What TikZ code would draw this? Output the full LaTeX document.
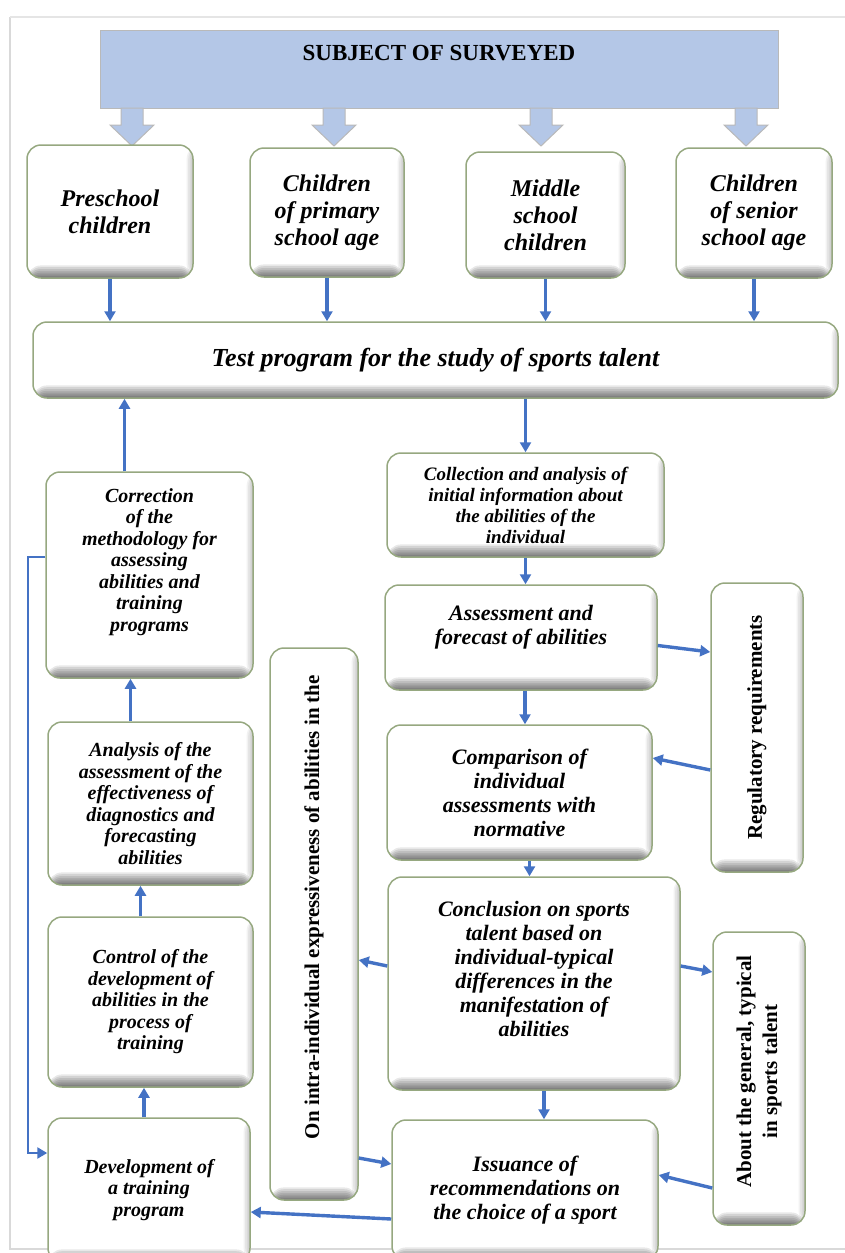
\documentclass[tikz,border=0pt]{standalone}
\usepackage{fontspec}
\setmainfont{Liberation Serif}
\usetikzlibrary{arrows.meta}
\definecolor{arrblue}{RGB}{68,114,196}
\definecolor{topblue}{RGB}{180,199,231}
\definecolor{boxline}{RGB}{150,168,128}
\begin{document}
\begin{tikzpicture}
      [x=1pt,y=-1pt
      ,box/.style={draw=boxline,line width=1.5pt,rounded corners=14pt,fill=white,align=center,inner sep=2pt
        ,font=\bfseries\itshape\fontsize{20}{21.5}\selectfont
        ,path picture={
          \foreach \k in {1,...,7}
            \fill[black,opacity=.09] (path picture bounding box.south west) rectangle ([yshift=1.8*\k pt]path picture bounding box.south east);
          \foreach \k in {1,...,4}
            \fill[black,opacity=.05] ([xshift=-1.6*\k pt]path picture bounding box.north east) rectangle (path picture bounding box.south east);}}
      ,big/.style={font=\bfseries\itshape\fontsize{22}{24}\selectfont}
      ,kid/.style={font=\bfseries\itshape\fontsize{24}{27}\selectfont}
      ,vtxt/.style={rotate=90,align=center,font=\bfseries\fontsize{21}{26}\selectfont}
      ,arr/.style={draw=arrblue,line width=3.4pt,-{Triangle[length=10pt,width=11pt]}}
      ,blockarr/.style={fill=topblue,draw=gray!55,line width=1pt}
      ]
        \useasboundingbox (0,0) rectangle (845,1253);
        \draw[gray!30,line width=1.5pt] (10,17) -- (10,1249) -- (845,1249);
        \draw[gray!20,line width=1.5pt] (10,17) -- (845,17);

        \node[draw=gray!55,fill=topblue,minimum width=678pt,minimum height=78pt,text depth=32pt,font=\bfseries\fontsize{23}{26}\selectfont] (top) at (439,69) {SUBJECT OF SURVEYED};
        \foreach \x in {132,334,541,746}
          \draw[blockarr] (\x-11,108) -- (\x-11,125) -- (\x-22,125) -- (\x,146) -- (\x+22,125) -- (\x+11,125) -- (\x+11,108) -- cycle;

        \node[box,kid,minimum width=166pt,minimum height=133pt] (pre) at (110,211.5) {Preschool\\children};
        \node[box,kid,minimum width=154pt,minimum height=129pt] (pri) at (327,212.5) {Children\\of primary\\school age};
        \node[box,kid,minimum width=159pt,minimum height=126pt] (mid) at (545.5,215) {Middle\\school\\children};
        \node[box,kid,minimum width=156pt,minimum height=130pt] (sen) at (754,213) {Children\\of senior\\school age};
        \node[box,minimum width=805pt,minimum height=76pt,font=\bfseries\itshape\fontsize{26}{30}\selectfont] (test) at (435.5,360) {Test program for the study of sports talent};

        \node[box,minimum width=277pt,minimum height=104pt,font=\bfseries\itshape\fontsize{19}{21}\selectfont] (coll) at (525.5,505) {Collection and analysis of\\initial information about\\the abilities of the\\individual};
        \node[box,big,minimum width=272pt,minimum height=105pt,text height=13pt,text depth=0pt] (ass) at (521,637.5) {Assessment and\\forecast of abilities};
        \node[box,big,minimum width=265pt,minimum height=135pt] (comp) at (519.5,792.5) {Comparison of\\individual\\assessments with\\normative};
        \node[box,big,minimum width=292pt,minimum height=213pt,text height=105pt,text depth=0pt] (conc) at (534,983.5) {Conclusion on sports\\talent based on\\individual-typical\\differences in the\\manifestation of\\abilities};
        \node[box,big,minimum width=266pt,minimum height=140pt] (iss) at (525,1190) {Issuance of\\recommendations on\\the choice of a sport};

        \node[box,minimum width=92pt,minimum height=289pt] (reg) at (757,727.5) {};
        \node[box,minimum width=92pt,minimum height=293pt] (about) at (759,1078.5) {};
        \node[box,minimum width=88pt,minimum height=552pt] (intra) at (314,924) {};
        \node[vtxt] (regtxt) at (reg.center) {Regulatory requirements};
        \node[vtxt] (abouttxt) at ([yshift=7pt]about.center) {About the general, typical\\in sports talent};
        \node[vtxt] (intratxt) at ([yshift=17pt]intra.center) {On intra-individual expressiveness of abilities in the};

        \node[box,minimum width=207pt,minimum height=206pt,text height=112pt,text depth=0pt] (corr) at (149.5,575) {Correction\\of the\\methodology for\\assessing\\abilities and\\training\\programs};
        \node[box,minimum width=205pt,minimum height=163pt] (ana) at (150.5,803.5) {Analysis of the\\assessment of the\\effectiveness of\\diagnostics and\\forecasting\\abilities};
        \node[box,minimum width=205pt,minimum height=170pt] (ctrl) at (150.5,1002) {Control of the\\development of\\abilities in the\\process of\\training};
        \node[box,minimum width=202pt,minimum height=144pt] (dev) at (149,1190) {Development of\\a training\\program};

        \foreach \n in {pre,pri,mid,sen}
          \draw[arr] (\n.south) -- (\n.south |- test.north);
        \draw[arr] (test.south -| coll.north) -- (coll.north);
        \draw[arr] ([xshift=-25pt]corr.north) -- ([xshift=-25pt]corr.north |- test.south);
        \draw[arr] (coll.south) -- (coll.south |- ass.north);
        \draw[arr] ([xshift=4pt]ass.south) -- ([xshift=4pt]ass.south |- comp.north);
        \draw[arr] ([yshift=-8pt]ass.east) -- ([yshift=75.5pt]reg.west);
        \draw[arr] ([yshift=-42.5pt]reg.west) -- ([yshift=34.5pt]comp.east);
        \draw[arr] ([xshift=10pt]comp.south) -- ([xshift=10pt]comp.south |- conc.north);
        \draw[arr] ([yshift=17.5pt]conc.west) -- ([yshift=-36pt]intra.east);
        \draw[arr] ([yshift=17.5pt]conc.east) -- ([yshift=106.5pt]about.west);
        \draw[arr] ([xshift=10pt]conc.south) -- ([xshift=10pt]conc.south |- iss.north);
        \draw[arr] ([yshift=-234pt]intra.east) -- ([yshift=26pt]iss.west);
        \draw[arr] ([yshift=-109.5pt]about.west) -- ([yshift=15pt]iss.east);
        \draw[arr] ([yshift=-29pt]iss.west) -- ([yshift=-22pt]dev.east);
        \draw[arr] ([xshift=-20pt]ana.north) -- ([xshift=-20pt]ana.north |- corr.south);
        \draw[arr] ([xshift=-10pt]ctrl.north) -- ([xshift=-10pt]ctrl.north |- ana.south);
        \draw[arr] ([xshift=-5pt]dev.north) -- ([xshift=-5pt]dev.north |- ctrl.south);
        \coordinate (fb) at (28,1153);
        \draw[arr,line width=2.4pt] ([yshift=18pt]corr.west) -| (fb) -- (fb -| dev.west);

      \end{tikzpicture}
\end{document}
